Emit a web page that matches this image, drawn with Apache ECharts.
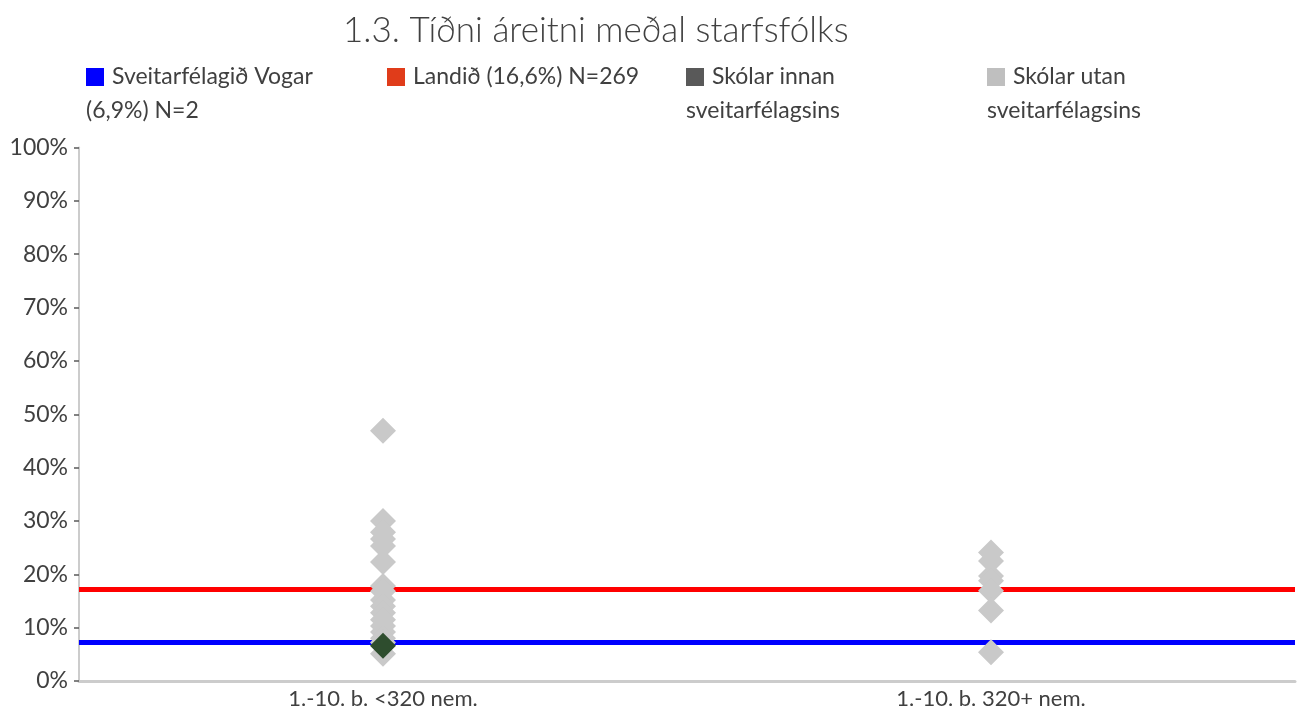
<!DOCTYPE html>
<html>
<head>
<meta charset="utf-8">
<script src="https://cdn.jsdelivr.net/npm/echarts@6/dist/echarts.min.js"></script>
<style>html,body{margin:0;padding:0;background:#fff}#c{width:1304px;height:711px}</style>
</head>
<body>
<div id="c"></div>
<script>
const titleText = '1.3. Tíðni áreitni meðal starfsfólks';
const categories = ['1.-10. b. <320 nem.', '1.-10. b. 320+ nem.'];
const seriesNames = [
  'Sveitarfélagið Vogar\n(6,9%) N=2',
  'Landið (16,6%) N=269',
  'Skólar innan\nsveitarfélagsins',
  'Skólar utan\nsveitarfélagsins'
];
const vogarLine = 7.3;
const landidLine = 17.2;
const innanValues = [[0, 6.6]];
const utanCat1 = [46.9, 30.0, 27.9, 26.6, 25.3, 22.3, 17.8, 16.8, 15.2, 14.0, 12.8, 11.5, 10.3, 9.2, 8.0, 7.2, 5.1];
const utanCat2 = [24.1, 22.5, 19.7, 18.8, 16.9, 13.2, 5.4];
const yTicks = {min: 0, max: 100, interval: 10};

const FONT = 'Lato';
const TXT = '#404040';
const legendColors = ['#0000ff', '#e03c1a', '#595959', '#bfbfbf'];
const legendLefts = [86, 387, 686, 987];

const utanData = utanCat1.map(v => [0, v]).concat(utanCat2.map(v => [1, v]));

const legends = seriesNames.map((n, i) => ({
  data: [n],
  left: legendLefts[i],
  top: 60,
  padding: 0,
  icon: 'rect',
  itemWidth: 0,
  itemHeight: 0,
  itemGap: 0,
  selectedMode: false,
  formatter: name => '{sq|}{sp|}' + name,
  textStyle: {
    fontFamily: FONT,
    fontSize: 23,
    color: TXT,
    lineHeight: 34,
    padding: [0, 0, 0, -5],
    rich: {
      sq: {width: 18, height: 18, backgroundColor: legendColors[i]},
      sp: {width: 8}
    }
  }
}));

const chart = echarts.init(document.getElementById('c'), null, {renderer: 'canvas'});
chart.setOption({
  animation: false,
  backgroundColor: '#ffffff',
  title: {
    text: titleText,
    left: 338,
    top: 8,
    textStyle: {fontFamily: FONT, fontSize: 35, fontWeight: 300, color: TXT}
  },
  legend: legends,
  grid: {left: 79, right: 9, top: 147.5, bottom: 30, containLabel: false},
  xAxis: {
    type: 'category',
    data: categories,
    boundaryGap: true,
    axisLine: {lineStyle: {color: '#cccccc', width: 3}},
    axisTick: {show: false},
    axisLabel: {fontFamily: FONT, fontSize: 22, color: TXT, margin: 7}
  },
  yAxis: {
    type: 'value',
    min: yTicks.min,
    max: yTicks.max,
    interval: yTicks.interval,
    axisLine: {show: true, lineStyle: {color: '#cccccc', width: 2}},
    axisTick: {show: true, length: 5, lineStyle: {color: '#595959', width: 1.5}},
    splitLine: {show: false},
    axisLabel: {fontFamily: FONT, fontSize: 23, color: TXT, margin: 11, formatter: '{value}%'}
  },
  series: [
    {
      name: seriesNames[0], type: 'line', data: [], z: 1,
      itemStyle: {color: legendColors[0]},
      markLine: {
        silent: true, symbol: 'none', z: 1,
        label: {show: false},
        lineStyle: {color: '#0000ff', width: 5, type: 'solid'},
        data: [{yAxis: vogarLine}]
      }
    },
    {
      name: seriesNames[1], type: 'line', data: [], z: 1,
      itemStyle: {color: legendColors[1]},
      markLine: {
        silent: true, symbol: 'none', z: 1,
        label: {show: false},
        lineStyle: {color: '#ff0000', width: 5, type: 'solid'},
        data: [{yAxis: landidLine}]
      }
    },
    {
      name: seriesNames[3], type: 'scatter', symbol: 'diamond', symbolSize: 26, z: 5,
      itemStyle: {color: '#c9c9c9', opacity: 1},
      data: utanData
    },
    {
      name: seriesNames[2], type: 'scatter', symbol: 'diamond', symbolSize: 26, z: 6,
      itemStyle: {color: '#2e4d2e', opacity: 1},
      data: innanValues
    }
  ]
});
</script>
</body>
</html>
